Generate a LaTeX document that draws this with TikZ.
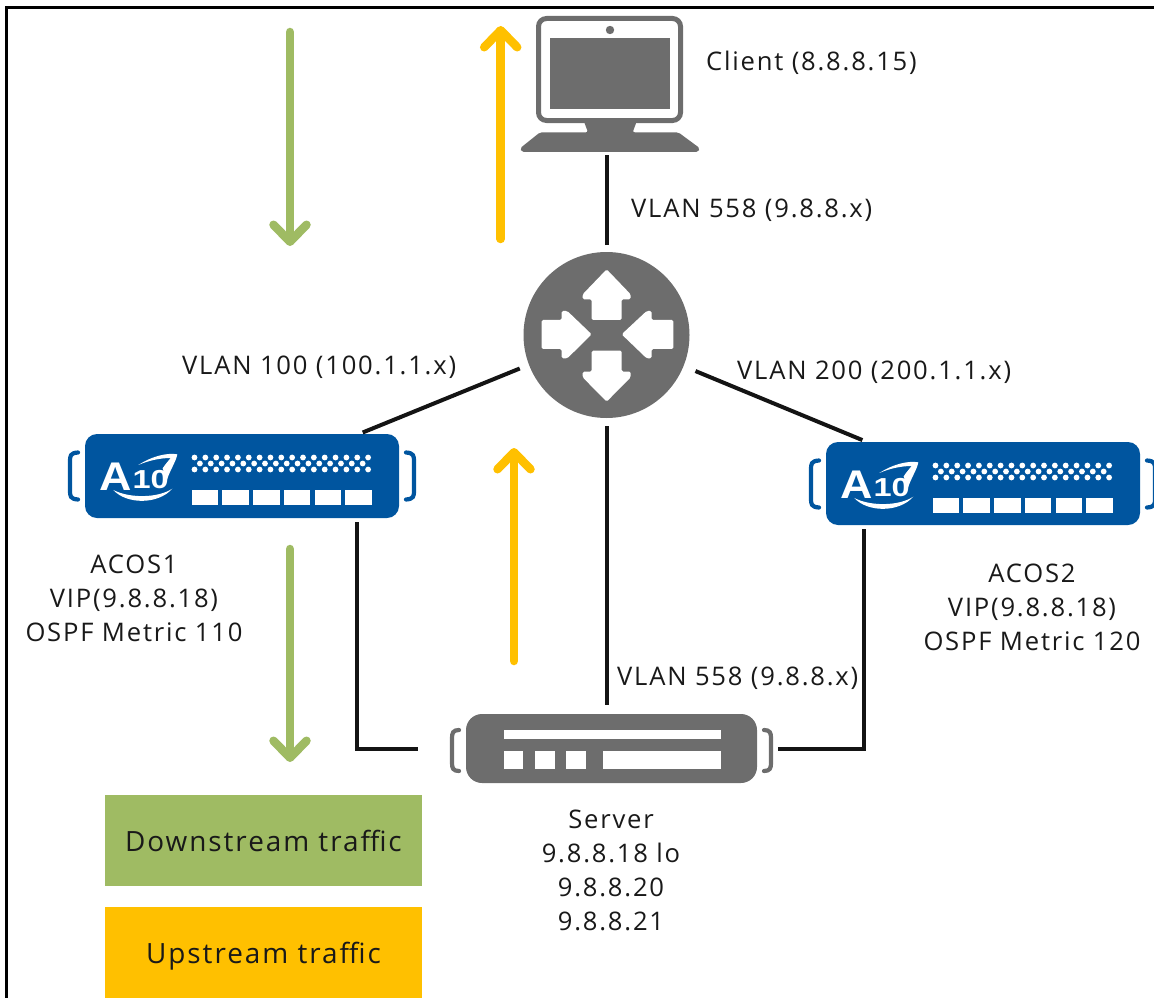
\documentclass[tikz,border=0pt]{standalone}
\usepackage{fontspec}
\setmainfont{Open Sans}
\newfontfamily\lblfont[LetterSpace=7]{Open Sans}
\newfontfamily\logofont{Liberation Sans}
\usetikzlibrary{arrows.meta,calc}
\definecolor{devblue}{HTML}{00559F}
\definecolor{devgray}{HTML}{6D6D6D}
\definecolor{downgreen}{HTML}{9FBB63}
\definecolor{uporange}{HTML}{FFC000}
\tikzset{
  lbl/.style={font=\lblfont\fontsize{25.6}{34}\selectfont, text=black!90, inner sep=0pt, align=center},
  link/.style={draw=black!92, line width=4pt},
  flowdown/.style={draw=downgreen, line width=8.5pt, line cap=round, -{Straight Barb[round,length=17pt,width=33pt,line width=8.5pt]}},
  flowup/.style={draw=uporange, line width=8.5pt, line cap=round, -{Straight Barb[round,length=17pt,width=33pt,line width=8.5pt]}},
  devbody/.style={rounded corners=12pt, inner sep=0pt, outer sep=0pt, anchor=north west},
  legend/.style={inner sep=0pt, outer sep=0pt, anchor=north west, minimum width=317pt, text=black!90, text depth=0pt, font=\lblfont\fontsize{27.9}{34}\selectfont},
  bracket/.style={line width=4.2pt, line cap=round},
  atendevice/.pic={
    \foreach \i in {0,...,16} {
      \fill[white] ({109.5+\i*10.85},23.5) circle (2.9pt);
      \fill[white] ({109.5+\i*10.85},35.5) circle (2.9pt);
    }
    \foreach \i in {0,...,15} {
      \fill[white] ({114.9+\i*10.85},29.5) circle (2.9pt);
    }
    \foreach \i in {0,...,5} {
      \fill[white] ({106.7+\i*30.7},56) rectangle ++(26.5,14.7);
    }
    \draw[devblue,bracket] (-7,18.5) .. controls (-15,19) and (-15,22) .. (-15,28) -- (-15,56) .. controls (-15,62) and (-15,65) .. (-7,65.5);
    \draw[devblue,bracket] (321,18.5) .. controls (329,19) and (329,22) .. (329,28) -- (329,56) .. controls (329,62) and (329,65) .. (321,65.5);
    \begin{scope}[shift={(-25,-14)},x=0.3333pt,y=-0.3333pt]
      \fill[white] (235,135) .. controls (280,106) and (325,98) .. (352,103) .. controls (348,125) and (330,150) .. (320,182) -- (308,145) .. controls (318,130) and (326,122) .. (332,114) .. controls (300,114) and (265,122) .. (235,135) -- cycle;
      \fill[white] (160,210) .. controls (200,254) and (295,254) .. (337,206) .. controls (295,234) and (210,236) .. (160,210) -- cycle;
      \node[text=white,inner sep=0pt,xscale=1.12] at (168,170) {\logofont\bfseries\fontsize{40}{40}\selectfont A};
      \node[text=white,inner sep=0pt,xscale=1.25] at (272,178) {\logofont\bfseries\fontsize{26}{26}\selectfont 10};
    \end{scope}
  },
}
\begin{document}
\begin{tikzpicture}[x=1pt,y=-1pt]
\useasboundingbox (0,0) rectangle (1154,998);
% frame
\draw[black,line width=3.4pt] (6.5,998) -- (6.5,7.7) -- (1154,7.7);

% client
\node[inner sep=0pt,outer sep=0pt,minimum width=180pt,minimum height=136pt] (client) at (610,84) {};
\draw[devgray,line width=5pt,rounded corners=8pt] (538.5,18.5) rectangle (680.5,120.5);
\fill[devgray] (550,38) rectangle (670,109);
\fill[devgray] (610,30) circle (4.2pt);
\begin{scope}[shift={(510,0)},x=0.3333pt,y=-0.3333pt]
  \fill[devgray,rounded corners=2pt] (222,365) -- (380,365) -- (368,397) -- (505,397) -- (570,445) -- (565,456) -- (35,456) -- (30,445) -- (90,397) -- (234,397) -- cycle;
\end{scope}

% router
\node[circle,fill=devgray,inner sep=0pt,outer sep=0pt,minimum size=166pt] (router) at (606.5,335) {};
\begin{scope}[shift={(510,250)},x=0.3333pt,y=-0.3333pt]
  \fill[white,rounded corners=1.5pt] (290,58) -- (218,133) -- (218,148) -- (245,148) -- (245,210) -- (335,210) -- (335,148) -- (362,148) -- (362,133) -- cycle;
  \fill[white,rounded corners=1.5pt] (245,302) -- (335,302) -- (335,365) -- (362,365) -- (362,382) -- (290,455) -- (218,382) -- (218,365) -- (245,365) -- cycle;
  \fill[white,rounded corners=1.5pt] (95,210) -- (155,210) -- (155,183) -- (172,183) -- (245,253) -- (172,325) -- (155,325) -- (155,297) -- (95,297) -- cycle;
  \fill[white,rounded corners=1.5pt] (335,253) -- (410,183) -- (425,183) -- (425,210) -- (490,210) -- (490,297) -- (425,297) -- (425,325) -- (410,325) -- cycle;
\end{scope}

% ACOS devices
\node[devbody,fill=devblue,minimum width=314pt,minimum height=84pt] (acos1) at (85,434) {};
\pic at (85,434) {atendevice};
\node[devbody,fill=devblue,minimum width=314pt,minimum height=83pt] (acos2) at (826,442) {};
\pic at (826,442) {atendevice};

% server
\node[devbody,fill=devgray,rounded corners=16pt,minimum width=291pt,minimum height=69pt] (server) at (466,714) {};
\fill[white] (504,730) rectangle (721,738.5);
\fill[white] (504,751) rectangle (523,769);
\fill[white] (535,751) rectangle (555,769);
\fill[white] (566,751) rectangle (586,769);
\fill[white] (603,751) rectangle (721,769);
\draw[devgray,bracket] (459,730) .. controls (453,730) and (452,733) .. (452,738) -- (452,763) .. controls (452,768) and (453,771) .. (459,771);
\draw[devgray,bracket] (764,730) .. controls (770,730) and (771,733) .. (771,738) -- (771,763) .. controls (771,768) and (770,771) .. (764,771);

% connectors
\draw[link,shorten >=3pt,shorten <=7pt] (router.north) -- (router.north |- client.south);
\draw[link,shorten >=9pt,shorten <=8pt] (router.south) -- (router.south |- server.north);
\draw[link,shorten <=10pt,shorten >=4pt] (router.201.6) -- ([xshift=-40pt]acos1.north east);
\draw[link,shorten <=13pt,shorten >=5pt] (router.338.4) -- ([xshift=41pt]acos2.north west);
\draw[link,shorten <=4pt,shorten >=48pt] ([xshift=-42pt]acos1.south east) |- (server.west);
\draw[link,shorten <=4pt,shorten >=21pt] ([xshift=38pt]acos2.south west) |- (server.east);

% traffic arrows
\coordinate (g1s) at (290,32); \coordinate (g1e) at (290,246);
\coordinate (g2s) at (290,549); \coordinate (g2e) at (290,762);
\coordinate (o1s) at (500.7,239); \coordinate (o1e) at (500.7,26);
\coordinate (o2s) at (514,661); \coordinate (o2e) at (514,448);
\draw[flowdown] (g1s) -- (g1e);
\draw[flowdown] (g2s) -- (g2e);
\draw[flowup] (o1s) -- (o1e);
\draw[flowup] (o2s) -- (o2e);

% labels
\node[lbl,anchor=west] (lclient) at (706,63) {Client (8.8.8.15)};
\node[lbl,anchor=west] (lv558a) at (631,210) {VLAN 558 (9.8.8.x)};
\node[lbl,anchor=west] (lv100) at (182,367) {VLAN 100 (100.1.1.x)};
\node[lbl,anchor=west] (lv200) at (737,372) {VLAN 200 (200.1.1.x)};
\node[lbl,anchor=west] (lv558b) at (617,678) {VLAN 558 (9.8.8.x)};
\node[lbl] (lacos1) at (134,598) {ACOS1\\VIP(9.8.8.18)\\OSPF Metric 110};
\node[lbl] (lacos2) at (1032,607) {ACOS2\\VIP(9.8.8.18)\\OSPF Metric 120};
\node[lbl] (lserver) at (611,870) {Server\\9.8.8.18 lo\\9.8.8.20\\9.8.8.21};

% legend
\node[legend,fill=downgreen,minimum height=91pt] (ldown) at (105,795) {Downstream traffic};
\node[legend,fill=uporange,minimum height=91pt] (lup) at (105,907) {Upstream traffic};
\end{tikzpicture}
\end{document}
